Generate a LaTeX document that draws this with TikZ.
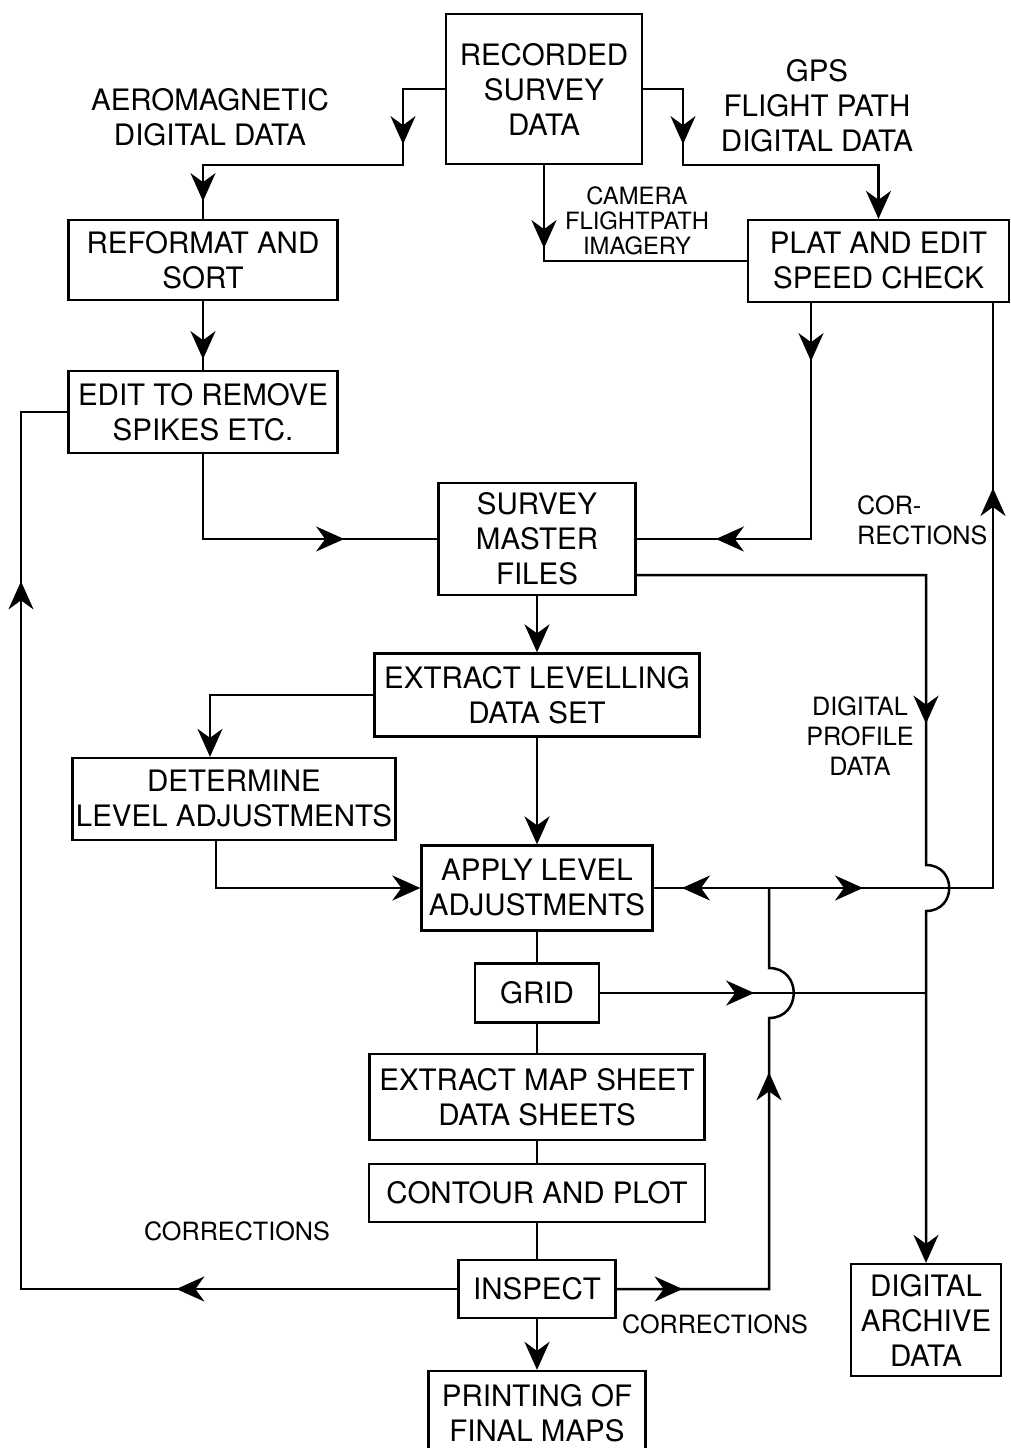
\documentclass[tikz,border=0pt]{standalone}
\usepackage{fontspec}
\setmainfont{TeX Gyre Heros}
\usetikzlibrary{arrows.meta,decorations.markings}
\newcommand\bigtxt{\fontsize{29.5}{35}\selectfont}
\newcommand\smalltxt{\fontsize{25.2}{30}\selectfont}
\newcommand\camtxt{\fontsize{23.8}{25}\selectfont}
\tikzset{
  >={Stealth[length=28pt,width=25pt,inset=9pt]},
  box/.style={draw, line width=2.3pt, inner sep=0pt, align=center, font=\bigtxt},
  lbl/.style={inner sep=0pt, align=center, font=\bigtxt},
  slbl/.style={inner sep=0pt, align=center, font=\smalltxt},
  conn/.style={line width=2.5pt},
  midtip/.style={postaction={decorate,decoration={markings,mark=at position #1 with {\arrow{>}}}}}
}
\begin{document}
\begin{tikzpicture}[x=1pt,y=-1pt]
\useasboundingbox (0,0) rectangle (1011,1448);
% boxes
\node[box, minimum width=196pt, minimum height=150pt] (rec) at (544,89) {RECORDED\\SURVEY\\DATA};
\node[box, minimum width=269pt, minimum height=80pt] (reformat) at (203,260) {REFORMAT AND\\SORT};
\node[box, minimum width=261pt, minimum height=82pt] (plat) at (878.5,261) {PLAT AND EDIT\\SPEED CHECK};
\node[box, minimum width=269pt, minimum height=82pt] (edit) at (203,412) {EDIT TO REMOVE\\SPIKES ETC.};
\node[box, minimum width=197pt, minimum height=112pt] (smf) at (537,539) {SURVEY\\MASTER\\FILES};
\node[box, minimum width=325pt, minimum height=83pt] (extlev) at (537,695) {EXTRACT LEVELLING\\DATA SET};
\node[box, minimum width=323pt, minimum height=82pt] (determine) at (234,799) {DETERMINE\\LEVEL ADJUSTMENTS};
\node[box, minimum width=231pt, minimum height=85pt] (apply) at (537,888) {APPLY LEVEL\\ADJUSTMENTS};
\node[box, minimum width=124pt, minimum height=59pt] (grid) at (537,993) {GRID};
\node[box, minimum width=335pt, minimum height=86pt] (extmap) at (537,1097) {EXTRACT MAP SHEET\\DATA SHEETS};
\node[box, minimum width=336pt, minimum height=58pt] (contour) at (537,1193) {CONTOUR AND PLOT};
\node[box, minimum width=157pt, minimum height=58pt] (inspect) at (537,1289) {INSPECT};
\node[box, minimum width=217pt, minimum height=84pt] (printing) at (537,1413) {PRINTING OF\\FINAL MAPS};
\node[box, minimum width=150pt, minimum height=112pt] (archive) at (926,1320) {DIGITAL\\ARCHIVE\\DATA};
% labels
\node[lbl] (aero) at (210,117) {AEROMAGNETIC\\DIGITAL DATA};
\node[lbl] (gps) at (817,106) {GPS\\FLIGHT PATH\\DIGITAL DATA};
\node[inner sep=0pt, align=center, font=\camtxt] (cam) at (637,221) {CAMERA\\FLIGHTPATH\\IMAGERY};
\node[slbl, align=left, anchor=west] (corr1) at (857,520) {COR-\\RECTIONS};
\node[slbl] (dpd) at (860,736) {DIGITAL\\PROFILE\\DATA};
\node[slbl] (corr2) at (237,1231) {CORRECTIONS};
\node[slbl] (corr3) at (715,1324) {CORRECTIONS};
% bend coordinates
\coordinate (j1) at (403,165);
\coordinate (j2) at (683,165);
\coordinate (p4) at (811,539);
\coordinate (lx) at (21,1289);
\coordinate (d1) at (210,695);
\coordinate (d2) at (216,888);
\coordinate (r1) at (926,575);
\coordinate (jn) at (769,888);
\coordinate (r2) at (993,888);
% connectors
\draw[conn, midtip=97pt, midtip=354pt] (rec.west) -| (j1) -| (reformat.north);
\draw[conn, midtip=95pt, ->] (rec.east) -| (j2) -| (plat.north);
\draw[conn, midtip=83pt] (rec.south) |- (plat.west);
\draw[conn, midtip=58pt, midtip=331pt] (plat.south -| p4) -- (p4) -- (smf.east |- p4);
\draw[conn, midtip=58pt] (reformat.south) -- (edit.north);
\draw[conn, midtip=226pt] (edit.south) |- (smf.west);
\draw[conn, midtip=281pt, midtip=1144pt] (inspect.west) -- (lx) |- (edit.west);
\draw[conn, ->] (smf.south) -- (extlev.north);
\draw[conn, ->] (extlev.west) -- (d1) -- (d1 |- determine.north);
\draw[conn, ->] (extlev.south) -- (apply.north);
\draw[conn, ->] (determine.south -| d2) -- (d2) -- (apply.west);
\draw[conn] (apply.south) -- (grid.north);
\draw[conn] (grid.south) -- (extmap.north);
\draw[conn] (extmap.south) -- (contour.north);
\draw[conn] (contour.south) -- (inspect.north);
\draw[conn, ->] (inspect.south) -- (printing.north);
\draw[conn, midtip=438pt, ->] (r1 -| smf.east) -- (r1) -- (926,865)
   .. controls (957,865) and (957,911) .. (926,911) -- (archive.north);
\draw[conn, midtip=154pt] (grid.east) -- (grid.east -| r1);
\draw[conn, midtip=66pt, midtip=369pt] (inspect.east) -- (inspect.east -| jn) -- (769,1018)
   .. controls (802,1018) and (802,968) .. (769,968) -- (jn);
\draw[conn, midtip=87pt] (jn) -- (apply.east);
\draw[conn, midtip=94pt, midtip=624pt] (jn) -- (r2) -- (r2 |- plat.south);
\end{tikzpicture}
\end{document}
